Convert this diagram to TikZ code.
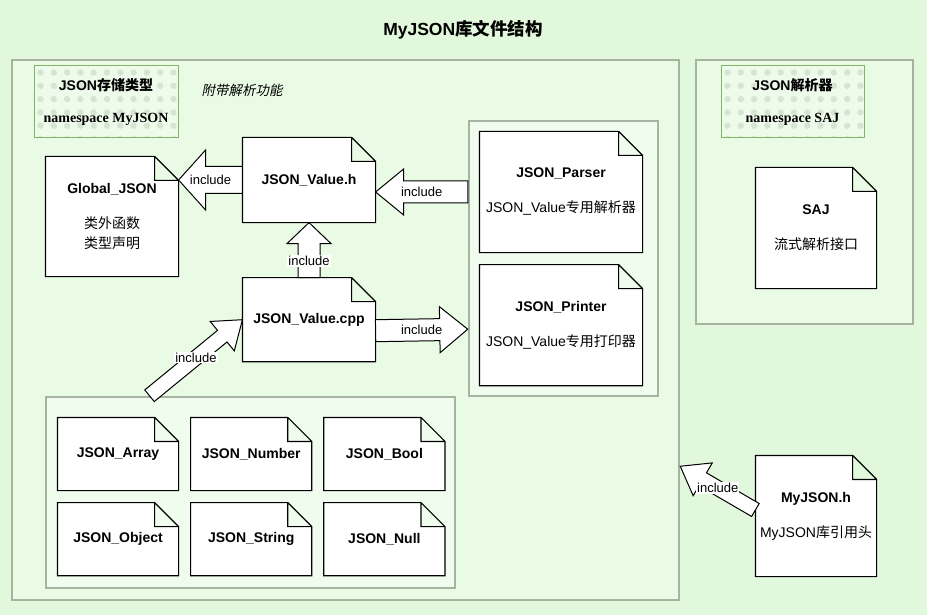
\documentclass[tikz,border=0pt]{standalone}
\usepackage{fontspec}
\setmainfont{Liberation Sans}
\newfontfamily\cjk{Noto Sans CJK SC}
\newfontfamily\cjkit{Noto Sans CJK SC}[FakeSlant=0.2]
\newfontfamily\serifb{Liberation Serif}
\usetikzlibrary{positioning,calc}
\definecolor{bgcol}{HTML}{E2F8DC}
\definecolor{boxfill}{HTML}{E9FBE5}
\definecolor{grpfill}{HTML}{F0FCEE}
\definecolor{boxline}{HTML}{A5B3A0}
\definecolor{nsgreen}{HTML}{82B366}
\definecolor{nsfill}{HTML}{EEFBEA}
\definecolor{dotcol}{HTML}{D6E4D2}

% file symbol with folded corner
\newdimen\docfold \docfold=24pt
\makeatletter
\pgfdeclareshape{docfile}{%
  \inheritsavedanchors[from=rectangle]%
  \inheritanchorborder[from=rectangle]%
  \inheritanchor[from=rectangle]{center}%
  \inheritanchor[from=rectangle]{north}%
  \inheritanchor[from=rectangle]{south}%
  \inheritanchor[from=rectangle]{east}%
  \inheritanchor[from=rectangle]{west}%
  \inheritanchor[from=rectangle]{north east}%
  \inheritanchor[from=rectangle]{north west}%
  \inheritanchor[from=rectangle]{south east}%
  \inheritanchor[from=rectangle]{south west}%
  \inheritanchor[from=rectangle]{text}%
  \inheritanchor[from=rectangle]{base}%
  \inheritanchor[from=rectangle]{mid}%
  \backgroundpath{%
    \southwest \pgf@xa=\pgf@x \pgf@ya=\pgf@y
    \northeast \pgf@xb=\pgf@x \pgf@yb=\pgf@y
    \pgf@xc=\pgf@xb \advance\pgf@xc by -\docfold
    \pgf@yc=\pgf@yb \advance\pgf@yc by -\docfold
    \pgfpathmoveto{\pgfqpoint{\pgf@xa}{\pgf@ya}}%
    \pgfpathlineto{\pgfqpoint{\pgf@xa}{\pgf@yb}}%
    \pgfpathlineto{\pgfqpoint{\pgf@xc}{\pgf@yb}}%
    \pgfpathlineto{\pgfqpoint{\pgf@xb}{\pgf@yc}}%
    \pgfpathlineto{\pgfqpoint{\pgf@xb}{\pgf@ya}}%
    \pgfpathclose
    \pgfpathmoveto{\pgfqpoint{\pgf@xc}{\pgf@yb}}%
    \pgfpathlineto{\pgfqpoint{\pgf@xc}{\pgf@yc}}%
    \pgfpathlineto{\pgfqpoint{\pgf@xb}{\pgf@yc}}%
  }%
}
\makeatother

% hollow block arrow: [label pos]{from}{to}{label}
\def\fatbody{11pt}
\def\fathead{23pt}
\def\fatlen{28pt}
\newcommand{\fatarrow}[4][0.5]{%
  \coordinate (fa-s) at (#2);
  \coordinate (fa-e) at (#3);
  \coordinate (fa-h) at ($(fa-e)!\fatlen!(fa-s)$);
  \draw[fatarr] ($(fa-s)!\fatbody!90:(fa-e)$) -- ($(fa-h)!\fatbody!90:(fa-e)$)
    -- ($(fa-h)!\fathead!90:(fa-e)$) -- (fa-e) -- ($(fa-h)!\fathead!-90:(fa-e)$)
    -- ($(fa-h)!\fatbody!-90:(fa-e)$) -- ($(fa-s)!\fatbody!-90:(fa-e)$) -- cycle;
  \path (fa-s) -- (fa-e) node[pos=#1,lbl] {#4};
}

\begin{document}
\begin{tikzpicture}[x=1pt,y=-1pt,
  box/.style={draw=boxline,line width=2.5pt,fill=boxfill,inner sep=0pt},
  grp/.style={box,fill=grpfill},
  ns/.style={draw=nsgreen,line width=1pt,fill=nsfill,inner sep=0pt,align=center,
    minimum height=72pt,font=\fontsize{14}{17}\selectfont\bfseries,
    path picture={\foreach \i in {0,...,11} \foreach \j in {0,...,5}
      \fill[dotcol] ([shift={(6.5+\i*13.3,6.5+\j*13.3)}]path picture bounding box.north west) circle (3.2pt);}},
  doc/.style={shape=docfile,draw,fill=white,line width=1.2pt,align=center,
    inner sep=2pt,font=\fontsize{14}{20}\selectfont},
  small/.style={doc,minimum width=120pt,minimum height=72pt,text width=112pt,
    font=\fontsize{14}{20}\selectfont\bfseries},
  lbl/.style={fill=white,inner sep=1pt,font=\fontsize{13}{15}\selectfont},
  fatarr/.style={draw,fill=white,line width=1pt,line join=miter}]
\fill[bgcol] (0,0) rectangle (927,615);
\useasboundingbox (0,0) rectangle (927,615);

\node[font=\fontsize{17.5}{20}\selectfont\bfseries] (title) at (463,30) {MyJSON{\cjk 库文件结构}};

% containers
\node[box,minimum width=667pt,minimum height=540pt] (mylib) at (345.5,330) {};
\node[box,minimum width=217pt,minimum height=264pt] (sajbox) at (804.5,192) {};
\node[grp,minimum width=189pt,minimum height=275pt] (iobox) at (563.5,258.5) {};
\node[grp,minimum width=409pt,minimum height=191pt] (typebox) at (250.5,492.5) {};

\node[ns,minimum width=144pt] (nsmy) at (106,102) {JSON{\cjk 存储类型}\\[15pt]{\serifb namespace MyJSON}};
\node[ns,minimum width=143pt] (nssaj) at (792.5,102) {JSON{\cjk 解析器}\\[15pt]{\serifb namespace SAJ}};
\node[font=\fontsize{13.5}{15}\selectfont\cjkit] (extra) at (242,90) {附带解析功能};

% files
\node[doc,minimum width=132pt,minimum height=119pt] (glob) at (112,216.5)
  {\textbf{Global\_JSON}\\[15pt]{\cjk 类外函数}\\{\cjk 类型声明}};
\node[doc,minimum width=132pt,minimum height=84pt] (valh) at (309,180) {\textbf{JSON\_Value.h}};
\node[doc,minimum width=132pt,minimum height=83pt,below=55pt of valh] (valcpp) {\textbf{JSON\_Value.cpp}};
\node[doc,minimum width=162pt,minimum height=120pt] (parser) at (561,192)
  {\textbf{JSON\_Parser}\\[15pt]JSON\_Value{\cjk 专用解析器}};
\node[doc,minimum width=162pt,minimum height=120pt,below=12pt of parser] (printer)
  {\textbf{JSON\_Printer}\\[15pt]JSON\_Value{\cjk 专用打印器}};
\node[doc,minimum width=120pt,minimum height=120pt] (saj) at (816,228)
  {\textbf{SAJ}\\[15pt]{\cjk 流式解析接口}};
\node[doc,minimum width=120pt,minimum height=120pt] (myh) at (816,516)
  {\textbf{MyJSON.h}\\[15pt]MyJSON{\cjk 库引用头}};

\node[small] (arr) at (118,454) {JSON\_Array};
\node[small,right=12pt of arr] (num) {JSON\_Number};
\node[small,right=12pt of num] (bool) {JSON\_Bool};
\node[small,below=12pt of arr] (obj) {JSON\_Object};
\node[small,right=12pt of obj] (str) {JSON\_String};
\node[small,right=12pt of str] (nul) {JSON\_Null};

% include arrows
{\def\fatbody{13.5pt}\def\fathead{30pt}\def\fatlen{27pt}
\fatarrow{valh.west}{glob.east |- valh.west}{include}}
\fatarrow{iobox.west |- parser.west}{valh.east |- parser.west}{include}
{\def\fathead{22pt}\def\fatlen{21pt}
\fatarrow[0.3]{valcpp.north}{valh.south}{include}}
\fatarrow{[yshift=-11pt]valcpp.east}{[yshift=-4pt]iobox.west |- printer.west}{include}
{\def\fatbody{7.5pt}\def\fathead{19pt}\def\fatlen{26pt}
\fatarrow{[xshift=-101pt]typebox.north}{valcpp.west}{include}
\fatarrow{[yshift=6pt]myh.west}{[yshift=135pt]mylib.south east}{include}}
\end{tikzpicture}
\end{document}
